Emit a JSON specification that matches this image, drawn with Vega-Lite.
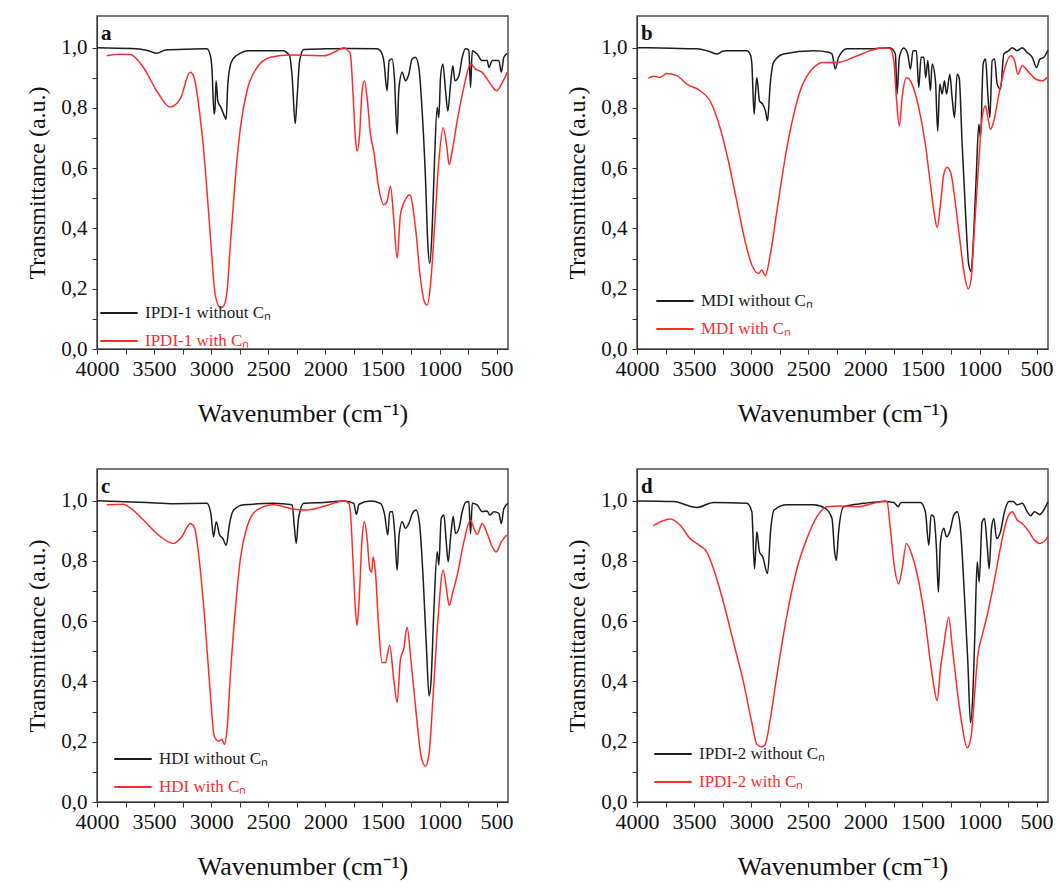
{
"$schema": "https://vega.github.io/schema/vega-lite/v6.json",
"background": "white",
"padding": {"left": 25, "top": 15, "right": 5, "bottom": 5},
"config": {
 "view": {"stroke": "#4d4d4d", "strokeWidth": 1.5},
 "axis": {"grid": false, "domainColor": "#333", "tickColor": "#333", "tickSize": 5, "labelFont": "Liberation Serif", "labelFontSize": 22, "labelColor": "#111", "titleFont": "Liberation Serif", "titleFontSize": 24, "titleFontWeight": "normal", "titleColor": "#111", "labelOverlap": false, "labelBound": false, "labelFlush": false},
 "axisY": {"labelFontSize": 21},
 "legend": {"title": null, "labelFont": "Liberation Serif", "labelFontSize": 17, "symbolType": "stroke", "symbolSize": 1400, "symbolStrokeWidth": 2, "rowPadding": -15, "labelOffset": 6, "padding": 0, "orient": "none"},
 "title": {"font": "Liberation Serif", "fontSize": 21, "fontWeight": "bold", "color": "#111", "anchor": "start", "frame": "group", "offset": -28, "dx": 4}
},
"datasets": {
 "a": [
  {"s":"without","w":4000,"t":1.0},{"s":"without","w":3700,"t":0.997},{"s":"without","w":3550,"t":0.99},{"s":"without","w":3477,"t":0.981},{"s":"without","w":3400,"t":0.992},{"s":"without","w":3200,"t":0.995},{"s":"without","w":3038,"t":0.996},{"s":"without","w":3005,"t":0.97},{"s":"without","w":2994,"t":0.934},{"s":"without","w":2974,"t":0.779},{"s":"without","w":2966,"t":0.8},{"s":"without","w":2957,"t":0.89},{"s":"without","w":2942,"t":0.823},{"s":"without","w":2913,"t":0.8},{"s":"without","w":2884,"t":0.773},{"s":"without","w":2869,"t":0.762},{"s":"without","w":2854,"t":0.879},{"s":"without","w":2825,"t":0.951},{"s":"without","w":2781,"t":0.973},{"s":"without","w":2664,"t":0.99},{"s":"without","w":2372,"t":0.99},{"s":"without","w":2313,"t":0.973},{"s":"without","w":2290,"t":0.9},{"s":"without","w":2264,"t":0.748},{"s":"without","w":2249,"t":0.823},{"s":"without","w":2225,"t":0.957},{"s":"without","w":2190,"t":0.994},{"s":"without","w":2000,"t":0.996},{"s":"without","w":1800,"t":0.997},{"s":"without","w":1547,"t":0.996},{"s":"without","w":1518,"t":0.99},{"s":"without","w":1488,"t":0.957},{"s":"without","w":1459,"t":0.857},{"s":"without","w":1441,"t":0.957},{"s":"without","w":1415,"t":0.962},{"s":"without","w":1395,"t":0.9},{"s":"without","w":1371,"t":0.712},{"s":"without","w":1357,"t":0.857},{"s":"without","w":1327,"t":0.918},{"s":"without","w":1298,"t":0.89},{"s":"without","w":1269,"t":0.912},{"s":"without","w":1240,"t":0.962},{"s":"without","w":1210,"t":0.968},{"s":"without","w":1181,"t":0.934},{"s":"without","w":1152,"t":0.79},{"s":"without","w":1123,"t":0.568},{"s":"without","w":1102,"t":0.346},{"s":"without","w":1085,"t":0.284},{"s":"without","w":1064,"t":0.401},{"s":"without","w":1044,"t":0.623},{"s":"without","w":1020,"t":0.801},{"s":"without","w":1006,"t":0.768},{"s":"without","w":991,"t":0.901},{"s":"without","w":971,"t":0.946},{"s":"without","w":947,"t":0.857},{"s":"without","w":927,"t":0.79},{"s":"without","w":903,"t":0.879},{"s":"without","w":883,"t":0.94},{"s":"without","w":865,"t":0.89},{"s":"without","w":830,"t":0.907},{"s":"without","w":801,"t":0.968},{"s":"without","w":772,"t":0.996},{"s":"without","w":743,"t":0.992},{"s":"without","w":728,"t":0.868},{"s":"without","w":713,"t":0.99},{"s":"without","w":670,"t":0.979},{"s":"without","w":626,"t":0.957},{"s":"without","w":582,"t":0.957},{"s":"without","w":567,"t":0.934},{"s":"without","w":538,"t":0.957},{"s":"without","w":480,"t":0.957},{"s":"without","w":459,"t":0.918},{"s":"without","w":436,"t":0.968},{"s":"without","w":406,"t":0.981},
  {"s":"with","w":3915,"t":0.973},{"s":"with","w":3800,"t":0.978},{"s":"with","w":3710,"t":0.977},{"s":"with","w":3593,"t":0.934},{"s":"with","w":3477,"t":0.857},{"s":"with","w":3360,"t":0.803},{"s":"with","w":3272,"t":0.829},{"s":"with","w":3184,"t":0.918},{"s":"with","w":3155,"t":0.907},{"s":"with","w":3096,"t":0.768},{"s":"with","w":3052,"t":0.601},{"s":"with","w":3008,"t":0.379},{"s":"with","w":2964,"t":0.179},{"s":"with","w":2920,"t":0.137},{"s":"with","w":2891,"t":0.143},{"s":"with","w":2861,"t":0.19},{"s":"with","w":2832,"t":0.346},{"s":"with","w":2788,"t":0.568},{"s":"with","w":2744,"t":0.734},{"s":"with","w":2686,"t":0.857},{"s":"with","w":2598,"t":0.934},{"s":"with","w":2481,"t":0.968},{"s":"with","w":2305,"t":0.976},{"s":"with","w":2013,"t":0.973},{"s":"with","w":1896,"t":0.99},{"s":"with","w":1838,"t":1.0},{"s":"with","w":1800,"t":0.99},{"s":"with","w":1781,"t":0.979},{"s":"with","w":1757,"t":0.846},{"s":"with","w":1737,"t":0.701},{"s":"with","w":1722,"t":0.657},{"s":"with","w":1702,"t":0.701},{"s":"with","w":1678,"t":0.857},{"s":"with","w":1658,"t":0.89},{"s":"with","w":1634,"t":0.834},{"s":"with","w":1605,"t":0.712},{"s":"with","w":1576,"t":0.657},{"s":"with","w":1532,"t":0.534},{"s":"with","w":1488,"t":0.479},{"s":"with","w":1459,"t":0.49},{"s":"with","w":1430,"t":0.54},{"s":"with","w":1401,"t":0.434},{"s":"with","w":1371,"t":0.301},{"s":"with","w":1342,"t":0.446},{"s":"with","w":1298,"t":0.496},{"s":"with","w":1260,"t":0.512},{"s":"with","w":1210,"t":0.401},{"s":"with","w":1167,"t":0.234},{"s":"with","w":1132,"t":0.157},{"s":"with","w":1108,"t":0.146},{"s":"with","w":1079,"t":0.212},{"s":"with","w":1044,"t":0.401},{"s":"with","w":1006,"t":0.623},{"s":"with","w":968,"t":0.734},{"s":"with","w":939,"t":0.679},{"s":"with","w":915,"t":0.612},{"s":"with","w":889,"t":0.657},{"s":"with","w":845,"t":0.757},{"s":"with","w":787,"t":0.868},{"s":"with","w":728,"t":0.946},{"s":"with","w":684,"t":0.929},{"s":"with","w":626,"t":0.918},{"s":"with","w":553,"t":0.879},{"s":"with","w":500,"t":0.857},{"s":"with","w":450,"t":0.884},{"s":"with","w":406,"t":0.918}
 ],
 "b": [
  {"s":"without","w":4000,"t":1.0},{"s":"without","w":3700,"t":0.998},{"s":"without","w":3477,"t":0.996},{"s":"without","w":3350,"t":0.985},{"s":"without","w":3301,"t":0.979},{"s":"without","w":3250,"t":0.988},{"s":"without","w":3213,"t":0.99},{"s":"without","w":3038,"t":0.99},{"s":"without","w":3005,"t":0.975},{"s":"without","w":2994,"t":0.946},{"s":"without","w":2974,"t":0.779},{"s":"without","w":2962,"t":0.85},{"s":"without","w":2950,"t":0.901},{"s":"without","w":2927,"t":0.823},{"s":"without","w":2898,"t":0.812},{"s":"without","w":2875,"t":0.79},{"s":"without","w":2857,"t":0.757},{"s":"without","w":2833,"t":0.879},{"s":"without","w":2804,"t":0.951},{"s":"without","w":2716,"t":0.979},{"s":"without","w":2453,"t":0.99},{"s":"without","w":2320,"t":0.985},{"s":"without","w":2292,"t":0.979},{"s":"without","w":2263,"t":0.929},{"s":"without","w":2234,"t":0.968},{"s":"without","w":2161,"t":0.996},{"s":"without","w":1956,"t":0.996},{"s":"without","w":1810,"t":1.0},{"s":"without","w":1781,"t":0.999},{"s":"without","w":1737,"t":0.979},{"s":"without","w":1722,"t":0.846},{"s":"without","w":1702,"t":0.968},{"s":"without","w":1664,"t":0.999},{"s":"without","w":1629,"t":0.979},{"s":"without","w":1605,"t":0.929},{"s":"without","w":1582,"t":0.99},{"s":"without","w":1553,"t":0.99},{"s":"without","w":1532,"t":0.868},{"s":"without","w":1512,"t":0.968},{"s":"without","w":1488,"t":0.968},{"s":"without","w":1471,"t":0.9},{"s":"without","w":1453,"t":0.957},{"s":"without","w":1430,"t":0.857},{"s":"without","w":1415,"t":0.946},{"s":"without","w":1386,"t":0.89},{"s":"without","w":1366,"t":0.723},{"s":"without","w":1348,"t":0.879},{"s":"without","w":1327,"t":0.846},{"s":"without","w":1307,"t":0.89},{"s":"without","w":1289,"t":0.846},{"s":"without","w":1260,"t":0.912},{"s":"without","w":1240,"t":0.834},{"s":"without","w":1219,"t":0.768},{"s":"without","w":1196,"t":0.912},{"s":"without","w":1178,"t":0.9},{"s":"without","w":1152,"t":0.679},{"s":"without","w":1123,"t":0.457},{"s":"without","w":1094,"t":0.279},{"s":"without","w":1073,"t":0.257},{"s":"without","w":1056,"t":0.346},{"s":"without","w":1029,"t":0.568},{"s":"without","w":1006,"t":0.746},{"s":"without","w":991,"t":0.701},{"s":"without","w":968,"t":0.946},{"s":"without","w":947,"t":0.962},{"s":"without","w":927,"t":0.846},{"s":"without","w":909,"t":0.768},{"s":"without","w":889,"t":0.957},{"s":"without","w":868,"t":0.962},{"s":"without","w":845,"t":0.879},{"s":"without","w":816,"t":0.862},{"s":"without","w":787,"t":0.979},{"s":"without","w":743,"t":0.99},{"s":"without","w":713,"t":1.0},{"s":"without","w":670,"t":0.99},{"s":"without","w":626,"t":1.0},{"s":"without","w":582,"t":0.984},{"s":"without","w":538,"t":0.968},{"s":"without","w":500,"t":0.934},{"s":"without","w":471,"t":0.962},{"s":"without","w":436,"t":0.968},{"s":"without","w":400,"t":0.992},
  {"s":"with","w":3901,"t":0.899},{"s":"with","w":3850,"t":0.905},{"s":"with","w":3798,"t":0.901},{"s":"with","w":3740,"t":0.914},{"s":"with","w":3652,"t":0.907},{"s":"with","w":3564,"t":0.879},{"s":"with","w":3447,"t":0.857},{"s":"with","w":3360,"t":0.823},{"s":"with","w":3272,"t":0.734},{"s":"with","w":3199,"t":0.623},{"s":"with","w":3126,"t":0.49},{"s":"with","w":3053,"t":0.357},{"s":"with","w":2994,"t":0.279},{"s":"with","w":2936,"t":0.251},{"s":"with","w":2906,"t":0.262},{"s":"with","w":2877,"t":0.243},{"s":"with","w":2833,"t":0.312},{"s":"with","w":2775,"t":0.457},{"s":"with","w":2687,"t":0.668},{"s":"with","w":2570,"t":0.857},{"s":"with","w":2453,"t":0.934},{"s":"with","w":2365,"t":0.951},{"s":"with","w":2248,"t":0.951},{"s":"with","w":2102,"t":0.968},{"s":"with","w":1956,"t":0.99},{"s":"with","w":1839,"t":1.0},{"s":"with","w":1781,"t":0.996},{"s":"with","w":1751,"t":0.957},{"s":"with","w":1728,"t":0.834},{"s":"with","w":1702,"t":0.74},{"s":"with","w":1678,"t":0.834},{"s":"with","w":1640,"t":0.901},{"s":"with","w":1591,"t":0.879},{"s":"with","w":1532,"t":0.801},{"s":"with","w":1474,"t":0.679},{"s":"with","w":1430,"t":0.546},{"s":"with","w":1395,"t":0.446},{"s":"with","w":1371,"t":0.403},{"s":"with","w":1342,"t":0.479},{"s":"with","w":1313,"t":0.579},{"s":"with","w":1284,"t":0.603},{"s":"with","w":1248,"t":0.579},{"s":"with","w":1210,"t":0.479},{"s":"with","w":1167,"t":0.346},{"s":"with","w":1132,"t":0.246},{"s":"with","w":1099,"t":0.199},{"s":"with","w":1073,"t":0.234},{"s":"with","w":1044,"t":0.401},{"s":"with","w":1006,"t":0.623},{"s":"with","w":977,"t":0.768},{"s":"with","w":947,"t":0.807},{"s":"with","w":927,"t":0.768},{"s":"with","w":903,"t":0.729},{"s":"with","w":874,"t":0.757},{"s":"with","w":830,"t":0.846},{"s":"with","w":772,"t":0.94},{"s":"with","w":728,"t":0.973},{"s":"with","w":693,"t":0.957},{"s":"with","w":664,"t":0.912},{"s":"with","w":626,"t":0.94},{"s":"with","w":567,"t":0.918},{"s":"with","w":509,"t":0.896},{"s":"with","w":450,"t":0.89},{"s":"with","w":400,"t":0.903}
 ],
 "c": [
  {"s":"without","w":4000,"t":1.0},{"s":"without","w":3564,"t":0.994},{"s":"without","w":3330,"t":0.99},{"s":"without","w":3038,"t":0.991},{"s":"without","w":3003,"t":0.958},{"s":"without","w":2979,"t":0.88},{"s":"without","w":2956,"t":0.93},{"s":"without","w":2926,"t":0.886},{"s":"without","w":2897,"t":0.874},{"s":"without","w":2868,"t":0.852},{"s":"without","w":2839,"t":0.924},{"s":"without","w":2803,"t":0.969},{"s":"without","w":2715,"t":0.986},{"s":"without","w":2452,"t":0.991},{"s":"without","w":2291,"t":0.986},{"s":"without","w":2270,"t":0.908},{"s":"without","w":2255,"t":0.858},{"s":"without","w":2235,"t":0.941},{"s":"without","w":2188,"t":0.991},{"s":"without","w":2013,"t":0.994},{"s":"without","w":1839,"t":0.999},{"s":"without","w":1751,"t":0.991},{"s":"without","w":1728,"t":0.954},{"s":"without","w":1705,"t":0.988},{"s":"without","w":1605,"t":0.999},{"s":"without","w":1518,"t":0.991},{"s":"without","w":1480,"t":0.952},{"s":"without","w":1453,"t":0.886},{"s":"without","w":1436,"t":0.963},{"s":"without","w":1412,"t":0.963},{"s":"without","w":1392,"t":0.891},{"s":"without","w":1371,"t":0.769},{"s":"without","w":1354,"t":0.886},{"s":"without","w":1327,"t":0.93},{"s":"without","w":1298,"t":0.908},{"s":"without","w":1269,"t":0.924},{"s":"without","w":1237,"t":0.958},{"s":"without","w":1205,"t":0.969},{"s":"without","w":1175,"t":0.924},{"s":"without","w":1143,"t":0.741},{"s":"without","w":1114,"t":0.508},{"s":"without","w":1091,"t":0.352},{"s":"without","w":1073,"t":0.408},{"s":"without","w":1050,"t":0.63},{"s":"without","w":1020,"t":0.83},{"s":"without","w":1006,"t":0.786},{"s":"without","w":985,"t":0.941},{"s":"without","w":962,"t":0.952},{"s":"without","w":941,"t":0.863},{"s":"without","w":924,"t":0.797},{"s":"without","w":901,"t":0.886},{"s":"without","w":880,"t":0.947},{"s":"without","w":860,"t":0.891},{"s":"without","w":830,"t":0.908},{"s":"without","w":801,"t":0.963},{"s":"without","w":772,"t":0.994},{"s":"without","w":743,"t":0.997},{"s":"without","w":728,"t":0.891},{"s":"without","w":713,"t":0.991},{"s":"without","w":670,"t":0.986},{"s":"without","w":626,"t":0.963},{"s":"without","w":582,"t":0.966},{"s":"without","w":561,"t":0.952},{"s":"without","w":523,"t":0.963},{"s":"without","w":480,"t":0.958},{"s":"without","w":459,"t":0.924},{"s":"without","w":436,"t":0.974},{"s":"without","w":401,"t":0.991},
  {"s":"with","w":3915,"t":0.986},{"s":"with","w":3769,"t":0.988},{"s":"with","w":3725,"t":0.98},{"s":"with","w":3593,"t":0.936},{"s":"with","w":3477,"t":0.891},{"s":"with","w":3330,"t":0.858},{"s":"with","w":3257,"t":0.88},{"s":"with","w":3184,"t":0.924},{"s":"with","w":3149,"t":0.913},{"s":"with","w":3096,"t":0.774},{"s":"with","w":3052,"t":0.586},{"s":"with","w":3008,"t":0.363},{"s":"with","w":2973,"t":0.219},{"s":"with","w":2935,"t":0.202},{"s":"with","w":2906,"t":0.208},{"s":"with","w":2885,"t":0.191},{"s":"with","w":2861,"t":0.241},{"s":"with","w":2832,"t":0.419},{"s":"with","w":2788,"t":0.641},{"s":"with","w":2744,"t":0.808},{"s":"with","w":2686,"t":0.913},{"s":"with","w":2598,"t":0.969},{"s":"with","w":2452,"t":0.986},{"s":"with","w":2305,"t":0.974},{"s":"with","w":2159,"t":0.969},{"s":"with","w":1954,"t":0.988},{"s":"with","w":1837,"t":0.999},{"s":"with","w":1794,"t":0.991},{"s":"with","w":1781,"t":0.963},{"s":"with","w":1757,"t":0.797},{"s":"with","w":1737,"t":0.641},{"s":"with","w":1722,"t":0.586},{"s":"with","w":1705,"t":0.663},{"s":"with","w":1678,"t":0.874},{"s":"with","w":1658,"t":0.93},{"s":"with","w":1634,"t":0.874},{"s":"with","w":1611,"t":0.774},{"s":"with","w":1594,"t":0.763},{"s":"with","w":1582,"t":0.813},{"s":"with","w":1561,"t":0.763},{"s":"with","w":1532,"t":0.574},{"s":"with","w":1503,"t":0.463},{"s":"with","w":1474,"t":0.463},{"s":"with","w":1436,"t":0.519},{"s":"with","w":1401,"t":0.408},{"s":"with","w":1371,"t":0.33},{"s":"with","w":1342,"t":0.474},{"s":"with","w":1313,"t":0.508},{"s":"with","w":1284,"t":0.58},{"s":"with","w":1248,"t":0.463},{"s":"with","w":1202,"t":0.286},{"s":"with","w":1161,"t":0.152},{"s":"with","w":1123,"t":0.119},{"s":"with","w":1094,"t":0.152},{"s":"with","w":1056,"t":0.352},{"s":"with","w":1015,"t":0.597},{"s":"with","w":968,"t":0.769},{"s":"with","w":939,"t":0.708},{"s":"with","w":915,"t":0.652},{"s":"with","w":883,"t":0.697},{"s":"with","w":845,"t":0.752},{"s":"with","w":787,"t":0.863},{"s":"with","w":728,"t":0.936},{"s":"with","w":699,"t":0.908},{"s":"with","w":670,"t":0.888},{"s":"with","w":626,"t":0.924},{"s":"with","w":582,"t":0.891},{"s":"with","w":538,"t":0.847},{"s":"with","w":503,"t":0.83},{"s":"with","w":459,"t":0.863},{"s":"with","w":412,"t":0.886}
 ],
 "d": [
  {"s":"without","w":4000,"t":0.999},{"s":"without","w":3681,"t":0.997},{"s":"without","w":3477,"t":0.977},{"s":"without","w":3330,"t":0.994},{"s":"without","w":3038,"t":0.991},{"s":"without","w":2994,"t":0.963},{"s":"without","w":2971,"t":0.774},{"s":"without","w":2950,"t":0.897},{"s":"without","w":2927,"t":0.83},{"s":"without","w":2898,"t":0.813},{"s":"without","w":2857,"t":0.758},{"s":"without","w":2828,"t":0.908},{"s":"without","w":2798,"t":0.969},{"s":"without","w":2687,"t":0.986},{"s":"without","w":2453,"t":0.986},{"s":"without","w":2351,"t":0.974},{"s":"without","w":2292,"t":0.941},{"s":"without","w":2269,"t":0.83},{"s":"without","w":2254,"t":0.802},{"s":"without","w":2234,"t":0.897},{"s":"without","w":2190,"t":0.98},{"s":"without","w":2015,"t":0.991},{"s":"without","w":1839,"t":0.997},{"s":"without","w":1751,"t":0.994},{"s":"without","w":1713,"t":0.98},{"s":"without","w":1687,"t":0.994},{"s":"without","w":1518,"t":0.994},{"s":"without","w":1474,"t":0.963},{"s":"without","w":1444,"t":0.852},{"s":"without","w":1424,"t":0.952},{"s":"without","w":1401,"t":0.947},{"s":"without","w":1377,"t":0.841},{"s":"without","w":1360,"t":0.697},{"s":"without","w":1342,"t":0.863},{"s":"without","w":1313,"t":0.908},{"s":"without","w":1289,"t":0.88},{"s":"without","w":1260,"t":0.897},{"s":"without","w":1225,"t":0.952},{"s":"without","w":1196,"t":0.963},{"s":"without","w":1167,"t":0.908},{"s":"without","w":1132,"t":0.686},{"s":"without","w":1102,"t":0.463},{"s":"without","w":1079,"t":0.263},{"s":"without","w":1059,"t":0.352},{"s":"without","w":1041,"t":0.552},{"s":"without","w":1020,"t":0.797},{"s":"without","w":1003,"t":0.73},{"s":"without","w":977,"t":0.93},{"s":"without","w":956,"t":0.941},{"s":"without","w":933,"t":0.852},{"s":"without","w":915,"t":0.774},{"s":"without","w":895,"t":0.908},{"s":"without","w":874,"t":0.941},{"s":"without","w":851,"t":0.874},{"s":"without","w":816,"t":0.897},{"s":"without","w":781,"t":0.963},{"s":"without","w":743,"t":0.997},{"s":"without","w":705,"t":0.997},{"s":"without","w":670,"t":0.986},{"s":"without","w":626,"t":0.991},{"s":"without","w":582,"t":0.963},{"s":"without","w":553,"t":0.95},{"s":"without","w":518,"t":0.963},{"s":"without","w":471,"t":0.954},{"s":"without","w":436,"t":0.969},{"s":"without","w":400,"t":0.997},
  {"s":"with","w":3857,"t":0.917},{"s":"with","w":3711,"t":0.939},{"s":"with","w":3623,"t":0.919},{"s":"with","w":3535,"t":0.874},{"s":"with","w":3447,"t":0.85},{"s":"with","w":3389,"t":0.83},{"s":"with","w":3330,"t":0.774},{"s":"with","w":3243,"t":0.663},{"s":"with","w":3155,"t":0.53},{"s":"with","w":3067,"t":0.397},{"s":"with","w":2994,"t":0.263},{"s":"with","w":2950,"t":0.191},{"s":"with","w":2906,"t":0.183},{"s":"with","w":2877,"t":0.191},{"s":"with","w":2833,"t":0.274},{"s":"with","w":2775,"t":0.419},{"s":"with","w":2687,"t":0.619},{"s":"with","w":2599,"t":0.774},{"s":"with","w":2512,"t":0.874},{"s":"with","w":2424,"t":0.947},{"s":"with","w":2336,"t":0.98},{"s":"with","w":2219,"t":0.982},{"s":"with","w":2073,"t":0.98},{"s":"with","w":1927,"t":0.991},{"s":"with","w":1825,"t":0.999},{"s":"with","w":1810,"t":0.997},{"s":"with","w":1781,"t":0.908},{"s":"with","w":1751,"t":0.797},{"s":"with","w":1708,"t":0.724},{"s":"with","w":1678,"t":0.774},{"s":"with","w":1640,"t":0.858},{"s":"with","w":1591,"t":0.819},{"s":"with","w":1532,"t":0.73},{"s":"with","w":1474,"t":0.597},{"s":"with","w":1430,"t":0.463},{"s":"with","w":1395,"t":0.374},{"s":"with","w":1371,"t":0.336},{"s":"with","w":1342,"t":0.441},{"s":"with","w":1313,"t":0.519},{"s":"with","w":1269,"t":0.613},{"s":"with","w":1240,"t":0.519},{"s":"with","w":1196,"t":0.374},{"s":"with","w":1152,"t":0.252},{"s":"with","w":1108,"t":0.18},{"s":"with","w":1073,"t":0.219},{"s":"with","w":1044,"t":0.352},{"s":"with","w":1015,"t":0.486},{"s":"with","w":977,"t":0.552},{"s":"with","w":933,"t":0.619},{"s":"with","w":889,"t":0.697},{"s":"with","w":845,"t":0.786},{"s":"with","w":801,"t":0.874},{"s":"with","w":757,"t":0.941},{"s":"with","w":713,"t":0.963},{"s":"with","w":670,"t":0.936},{"s":"with","w":626,"t":0.924},{"s":"with","w":567,"t":0.897},{"s":"with","w":518,"t":0.869},{"s":"with","w":471,"t":0.858},{"s":"with","w":421,"t":0.869},{"s":"with","w":400,"t":0.883}
 ]
},
"columns": 2,
"spacing": {"row": 120, "column": 129},
"bounds": "flush",
"resolve": {"scale": {"color": "independent"}, "legend": {"color": "independent"}},
"concat": [
  {"title": {"text": "a"}, "width": 411, "height": 333, "data": {"name": "a"},
   "mark": {"type": "line", "strokeWidth": 1.5, "interpolate": "monotone"},
   "encoding": {
    "x": {"field": "w", "type": "quantitative", "scale": {"domain": [4000, 400], "nice": false, "zero": false}, "axis": {"title": "Wavenumber (cm⁻¹)", "titleFontSize": 26, "format": "d", "values": [4000,3750,3500,3250,3000,2750,2500,2250,2000,1750,1500,1250,1000,750,500], "labelExpr": "datum.value % 500 === 0 ? datum.label : ''", "labelPadding": 4, "titlePadding": 21}},
    "y": {"field": "t", "type": "quantitative", "scale": {"domain": [0, 1.105], "nice": false, "zero": false}, "axis": {"title": "Transmittance (a.u.)", "values": [0,0.1,0.2,0.3,0.4,0.5,0.6,0.7,0.8,0.9,1.0], "labelExpr": "round(datum.value*10) % 2 === 0 ? replace(format(datum.value, '.1f'), '.', ',') : ''", "labelPadding": 5, "titlePadding": 11}},
    "color": {"field": "s", "type": "nominal", "scale": {"domain": ["without", "with"], "range": ["#1c1c1c", "#ff2b2b"]}, "legend": {"legendX": 2, "legendY": 277, "labelExpr": "'IPDI-1 ' + datum.label + ' Cₙ'", "encode": {"labels": {"update": {"fill": {"signal": "datum.label == 'with' ? '#ff2b2b' : '#222222'"}}}}}}
   }},
  {"title": {"text": "b"}, "width": 411, "height": 333, "data": {"name": "b"},
   "mark": {"type": "line", "strokeWidth": 1.5, "interpolate": "monotone"},
   "encoding": {
    "x": {"field": "w", "type": "quantitative", "scale": {"domain": [4000, 400], "nice": false, "zero": false}, "axis": {"title": "Wavenumber (cm⁻¹)", "titleFontSize": 26, "format": "d", "values": [4000,3750,3500,3250,3000,2750,2500,2250,2000,1750,1500,1250,1000,750,500], "labelExpr": "datum.value % 500 === 0 ? datum.label : ''", "labelPadding": 4, "titlePadding": 21}},
    "y": {"field": "t", "type": "quantitative", "scale": {"domain": [0, 1.105], "nice": false, "zero": false}, "axis": {"title": "Transmittance (a.u.)", "values": [0,0.1,0.2,0.3,0.4,0.5,0.6,0.7,0.8,0.9,1.0], "labelExpr": "round(datum.value*10) % 2 === 0 ? replace(format(datum.value, '.1f'), '.', ',') : ''", "labelPadding": 5, "titlePadding": 11}},
    "color": {"field": "s", "type": "nominal", "scale": {"domain": ["without", "with"], "range": ["#1c1c1c", "#ff2b2b"]}, "legend": {"legendX": 18, "legendY": 265, "labelExpr": "'MDI ' + datum.label + ' Cₙ'", "encode": {"labels": {"update": {"fill": {"signal": "datum.label == 'with' ? '#ff2b2b' : '#222222'"}}}}}}
   }},
  {"title": {"text": "c"}, "width": 411, "height": 333, "data": {"name": "c"},
   "mark": {"type": "line", "strokeWidth": 1.5, "interpolate": "monotone"},
   "encoding": {
    "x": {"field": "w", "type": "quantitative", "scale": {"domain": [4000, 400], "nice": false, "zero": false}, "axis": {"title": "Wavenumber (cm⁻¹)", "titleFontSize": 26, "format": "d", "values": [4000,3750,3500,3250,3000,2750,2500,2250,2000,1750,1500,1250,1000,750,500], "labelExpr": "datum.value % 500 === 0 ? datum.label : ''", "labelPadding": 4, "titlePadding": 21}},
    "y": {"field": "t", "type": "quantitative", "scale": {"domain": [0, 1.105], "nice": false, "zero": false}, "axis": {"title": "Transmittance (a.u.)", "values": [0,0.1,0.2,0.3,0.4,0.5,0.6,0.7,0.8,0.9,1.0], "labelExpr": "round(datum.value*10) % 2 === 0 ? replace(format(datum.value, '.1f'), '.', ',') : ''", "labelPadding": 5, "titlePadding": 11}},
    "color": {"field": "s", "type": "nominal", "scale": {"domain": ["without", "with"], "range": ["#1c1c1c", "#ff2b2b"]}, "legend": {"legendX": 16, "legendY": 270, "labelExpr": "'HDI ' + datum.label + ' Cₙ'", "encode": {"labels": {"update": {"fill": {"signal": "datum.label == 'with' ? '#ff2b2b' : '#222222'"}}}}}}
   }},
  {"title": {"text": "d"}, "width": 411, "height": 333, "data": {"name": "d"},
   "mark": {"type": "line", "strokeWidth": 1.5, "interpolate": "monotone"},
   "encoding": {
    "x": {"field": "w", "type": "quantitative", "scale": {"domain": [4000, 400], "nice": false, "zero": false}, "axis": {"title": "Wavenumber (cm⁻¹)", "titleFontSize": 26, "format": "d", "values": [4000,3750,3500,3250,3000,2750,2500,2250,2000,1750,1500,1250,1000,750,500], "labelExpr": "datum.value % 500 === 0 ? datum.label : ''", "labelPadding": 4, "titlePadding": 21}},
    "y": {"field": "t", "type": "quantitative", "scale": {"domain": [0, 1.105], "nice": false, "zero": false}, "axis": {"title": "Transmittance (a.u.)", "values": [0,0.1,0.2,0.3,0.4,0.5,0.6,0.7,0.8,0.9,1.0], "labelExpr": "round(datum.value*10) % 2 === 0 ? replace(format(datum.value, '.1f'), '.', ',') : ''", "labelPadding": 5, "titlePadding": 11}},
    "color": {"field": "s", "type": "nominal", "scale": {"domain": ["without", "with"], "range": ["#1c1c1c", "#ff2b2b"]}, "legend": {"legendX": 16, "legendY": 265, "labelExpr": "'IPDI-2 ' + datum.label + ' Cₙ'", "encode": {"labels": {"update": {"fill": {"signal": "datum.label == 'with' ? '#ff2b2b' : '#222222'"}}}}}}
   }}
]
}
